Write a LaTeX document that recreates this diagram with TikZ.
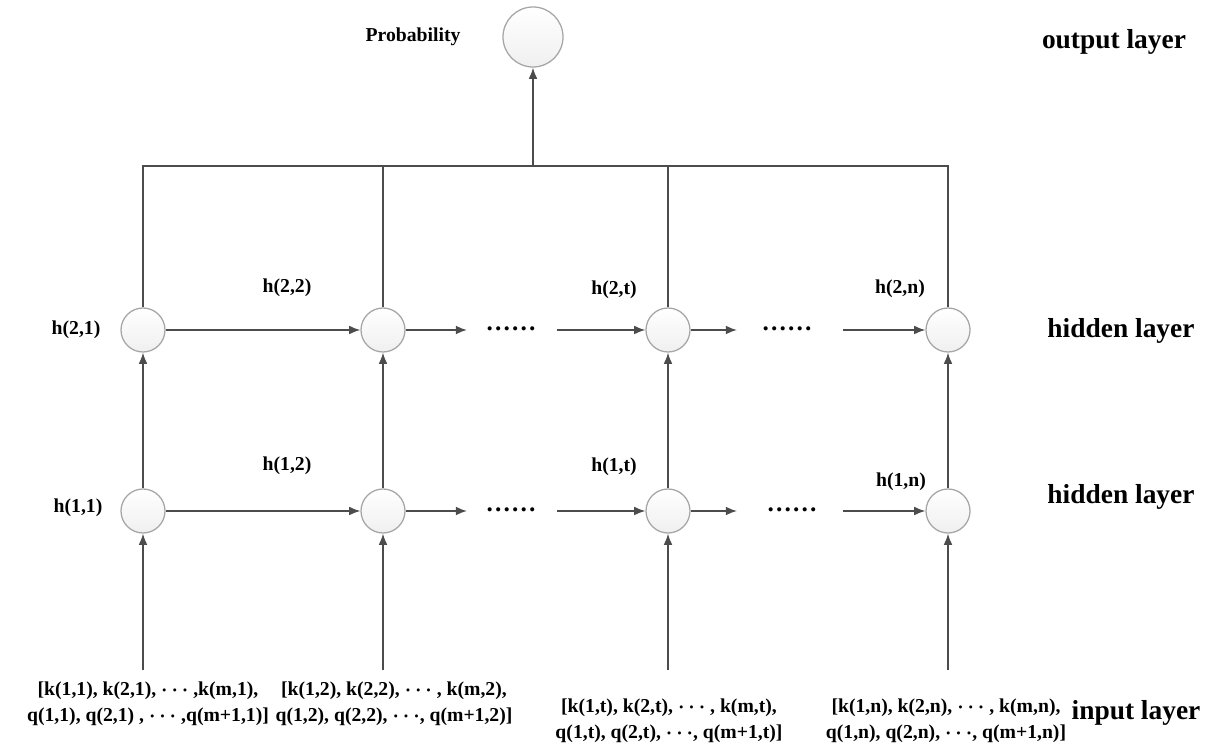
\documentclass[tikz,border=0pt]{standalone}
\usepackage{fontspec}
\setmainfont{Liberation Serif}
\usetikzlibrary{arrows.meta}
\tikzset{
  unit/.style={circle,draw=gray!70,line width=0.9pt,top color=white,bottom color=gray!12,minimum size=1.1cm,inner sep=0pt},
  wire/.style={draw=black!70,line width=1.1pt},
  link/.style={wire,-{Latex[length=0.28cm,width=0.22cm]}},
  hlabel/.style={font=\fontsize{14}{16}\selectfont\bfseries},
  layerlabel/.style={font=\fontsize{19.5}{22}\selectfont\bfseries},
  inlabel/.style={font=\fontsize{14}{18.5}\selectfont\bfseries\boldmath,align=center},
  dotsep/.style={font=\fontsize{18}{18}\selectfont\bfseries}
}
\begin{document}
\begin{tikzpicture}[x=0.025cm,y=-0.025cm]
\useasboundingbox (0,0) rectangle (1211,753);
\node[unit,minimum size=1.5cm] (prob) at (533,37) {};
\node[hlabel] (problabel) at (413,37) {Probability};
\node[unit] (h21) at (143,330) {};
\node[unit] (h22) at (383,330) {};
\node[unit] (h2t) at (668,330) {};
\node[unit] (h2n) at (948,330) {};
\node[unit] (h11) at (143,511) {};
\node[unit] (h12) at (383,511) {};
\node[unit] (h1t) at (668,511) {};
\node[unit] (h1n) at (948,511) {};
\node[hlabel] (l21) at (76,330) {h(2,1)};
\node[hlabel] (l22) at (287,288) {h(2,2)};
\node[hlabel] (l2t) at (614,290) {h(2,t)};
\node[hlabel] (l2n) at (900,289) {h(2,n)};
\node[hlabel] (l11) at (78,508) {h(1,1)};
\node[hlabel] (l12) at (287,466) {h(1,2)};
\node[hlabel] (l1t) at (614,467) {h(1,t)};
\node[hlabel] (l1n) at (901,482) {h(1,n)};
\node[layerlabel] (outl) at (1114,42) {output layer};
\node[layerlabel] (hidl2) at (1121,331) {hidden layer};
\node[layerlabel] (hidl1) at (1121,497) {hidden layer};
\node[layerlabel] (inl) at (1136,713) {input layer};
\node[inlabel] (in1) at (148,704) {[k(1,1), k(2,1), $\cdots$ ,k(m,1),\\q(1,1), q(2,1) , $\cdots$ ,q(m+1,1)]};
\node[inlabel] (in2) at (394,704) {[k(1,2), k(2,2), $\cdots$ , k(m,2),\\q(1,2), q(2,2), $\cdots$, q(m+1,2)]};
\node[inlabel] (in3) at (669,721) {[k(1,t), k(2,t), $\cdots$ , k(m,t),\\q(1,t), q(2,t), $\cdots$, q(m+1,t)]};
\node[inlabel] (in4) at (946,721) {[k(1,n), k(2,n), $\cdots$ , k(m,n),\\q(1,n), q(2,n), $\cdots$, q(m+1,n)]};
\coordinate (bus) at (533,166);
\coordinate (x1) at (143,670);
\coordinate (x2) at (383,670);
\coordinate (xt) at (668,670);
\coordinate (xn) at (948,670);
\draw[wire] (h21.north) -- (h21 |- bus) -- (h2n |- bus) -- (h2n.north);
\draw[wire] (h22.north) -- (h22 |- bus);
\draw[wire] (h2t.north) -- (h2t |- bus);
\draw[link] (bus) -- (prob);
\draw[link] (x1) -- (h11);
\draw[link] (x2) -- (h12);
\draw[link] (xt) -- (h1t);
\draw[link] (xn) -- (h1n);
\draw[link] (h11) -- (h21);
\draw[link] (h12) -- (h22);
\draw[link] (h1t) -- (h2t);
\draw[link] (h1n) -- (h2n);
\draw[link] (h21) -- (h22);
\draw[link] (h11) -- (h12);
\coordinate (a2) at (467,330);
\coordinate (b2) at (557,330);
\coordinate (c2) at (737,330);
\coordinate (e2) at (843,330);
\coordinate (a1) at (467,511);
\coordinate (b1) at (557,511);
\coordinate (c1) at (737,511);
\coordinate (e1) at (843,511);
\node[dotsep] (d2a) at (511,329) {\textellipsis\textellipsis};
\node[dotsep] (d2b) at (787,329) {\textellipsis\textellipsis};
\node[dotsep] (d1a) at (511,510) {\textellipsis\textellipsis};
\node[dotsep] (d1b) at (792,510) {\textellipsis\textellipsis};
\draw[link] (h22) -- (a2);
\draw[link] (b2) -- (h2t);
\draw[link] (h2t) -- (c2);
\draw[link] (e2) -- (h2n);
\draw[link] (h12) -- (a1);
\draw[link] (b1) -- (h1t);
\draw[link] (h1t) -- (c1);
\draw[link] (e1) -- (h1n);
\end{tikzpicture}
\end{document}
